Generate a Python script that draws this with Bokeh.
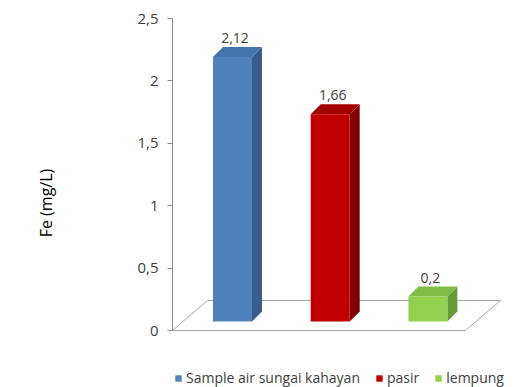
from bokeh.plotting import figure
from bokeh.models import Range1d, FixedTicker, CustomJSTickFormatter, Legend, LegendItem, ColumnDataSource
from bokeh.core.properties import value
from bokeh.embed import file_html
from bokeh.resources import INLINE

# ---- data ----
categories = ["Sample air sungai kahayan", "pasir", "lempung"]
fe_values = [2.12, 1.66, 0.2]
value_labels = ["2,12", "1,66", "0,2"]
y_ticks = [0, 0.5, 1, 1.5, 2, 2.5]

# ---- styles ----
front_colors = ["#4f81bd", "#c00000", "#92d050"]
side_colors = ["#375d8c", "#7f0000", "#679b34"]
top_colors = ["#4474ae", "#a30000", "#7fbf45"]

# geometry (screen px converted to data units)
PX_X = 97.7      # px per category step
PX_Y = 124.8     # px per unit of Fe
X_START = -60 / PX_X
FRAME_W = 338
FRAME_H = 369
Y_END = 2.5
Y_START = Y_END - FRAME_H / PX_Y

bar_half = 19.5 / PX_X
dep_x = 10 / PX_X
dep_y = 10 / PX_Y
base = 9 / PX_Y
floor_right = 233 / PX_X
floor_dx = 35 / PX_X
floor_dy = 30 / PX_Y

p = figure(frame_width=FRAME_W, frame_height=FRAME_H,
           output_backend="svg", toolbar_location=None,
           x_range=Range1d(X_START, X_START + FRAME_W / PX_X),
           y_range=Range1d(Y_START, Y_END),
           min_border_left=172, min_border_right=6, min_border_top=18,
           min_border_bottom=0, x_axis_location=None)
p.grid.visible = False
p.outline_line_color = None
p.background_fill_color = "white"
p.border_fill_color = "white"

# floor
fx0 = X_START
p.patch([fx0, floor_right, floor_right + floor_dx, fx0 + floor_dx],
        [0, 0, floor_dy, floor_dy],
        fill_color="white", line_color="#a6a6a6", line_width=1)

legend_items = []
for i, (cat, v) in enumerate(zip(categories, fe_values)):
    x0 = i - bar_half
    x1 = i + bar_half
    y0 = base
    y1 = base + v
    # side
    p.patch([x1, x1 + dep_x, x1 + dep_x, x1], [y0, y0 + dep_y, y1 + dep_y, y1],
            fill_color=side_colors[i], line_color=None)
    # top
    p.patch([x0, x1, x1 + dep_x, x0 + dep_x], [y1, y1, y1 + dep_y, y1 + dep_y],
            fill_color=top_colors[i], line_color=None)
    # front
    r = p.quad(left=[x0], right=[x1], bottom=[y0], top=[y1],
               fill_color=front_colors[i], line_color=None)
    legend_items.append(LegendItem(label=cat, renderers=[r]))

lab_src = ColumnDataSource(dict(
    x=[i + dep_x / 4 for i in range(len(fe_values))],
    y=[base + v + dep_y for v in fe_values],
    t=value_labels))
p.text(x="x", y="y", text="t", source=lab_src, text_align="center",
       text_baseline="bottom", y_offset=-4, text_font=value("Open Sans"),
       text_font_size="14px", text_color="#404040")

# y axis
ax = p.yaxis[0]
ax.bounds = (0, 2.5)
ax.ticker = FixedTicker(ticks=y_ticks)
ax.formatter = CustomJSTickFormatter(code="return tick.toString().replace('.', ',');")
ax.axis_line_color = "#8c8c8c"
ax.major_tick_line_color = "#8c8c8c"
ax.major_tick_out = 5
ax.major_tick_in = 0
ax.minor_tick_line_color = None
ax.major_label_standoff = 9
ax.major_label_text_font = "Open Sans"
ax.major_label_text_font_size = "15px"
ax.major_label_text_color = "#404040"
ax.axis_label = "Fe (mg/L)"
ax.axis_label_text_font = "Open Sans"
ax.axis_label_text_font_size = "16px"
ax.axis_label_text_font_style = "normal"
ax.axis_label_text_color = "#000000"
ax.axis_label_standoff = 77

legend = Legend(items=legend_items, orientation="horizontal", location=(2, 0),
                label_text_font="Open Sans", label_text_font_size="14px",
                label_text_color="#404040", glyph_width=8, glyph_height=8,
                label_standoff=4, spacing=15, padding=0, margin=0,
                border_line_color=None, background_fill_alpha=0)
p.add_layout(legend, "center")

open("out.html", "w").write(file_html(p, INLINE))
